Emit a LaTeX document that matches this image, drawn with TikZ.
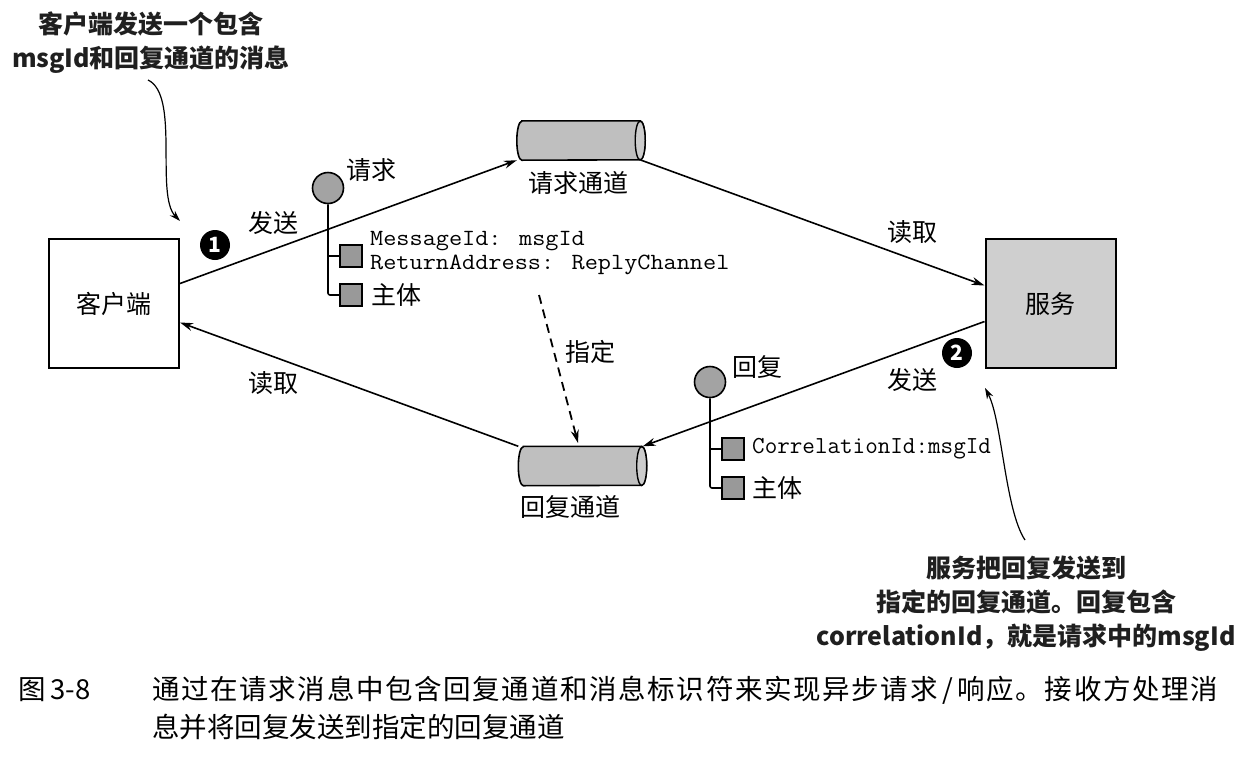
\documentclass[tikz,border=0pt]{standalone}
\usepackage{fontspec}
\usepackage{graphicx}
\setmainfont{Liberation Serif}
\newfontfamily\cjk{Noto Sans CJK SC}
\newfontfamily\capfont{Noto Sans CJK SC}[LetterSpace=6]
\usetikzlibrary{arrows.meta,calc}
\definecolor{boxgray}{gray}{0.81}
\definecolor{cylgray}{gray}{0.75}
\definecolor{endgray}{gray}{0.80}
\definecolor{circgray}{gray}{0.64}
\definecolor{sqgray}{gray}{0.60}
\definecolor{annotink}{gray}{0.12}
\newcommand\mycylinder[1]{%
  \filldraw[fill=cylgray, line width=1.6pt]
    ([xshift=5pt]#1.north west) -- ([xshift=-5pt]#1.north east)
    arc[x radius=5pt, y radius=19.5pt, start angle=90, end angle=-90]
    -- ([xshift=5pt]#1.south west)
    arc[x radius=5pt, y radius=19.5pt, start angle=270, end angle=90] -- cycle;
  \filldraw[fill=endgray, line width=1.4pt] ([xshift=-5pt]#1.east) ellipse[x radius=5pt, y radius=19.5pt];
}
\newcommand\widemono[1]{\scalebox{1.1}[1]{#1}}
\tikzset{
  boxnode/.style={draw, line width=2pt, minimum width=130pt, minimum height=129pt, inner sep=0pt, font=\cjk\fontsize{25}{30}\selectfont},
  lbl/.style={font=\cjk\fontsize{25}{30}\selectfont, inner sep=0pt},
  monotext/.style={font=\ttfamily\fontsize{23.2}{23}\selectfont, inner sep=0pt, anchor=west},
  conn/.style={line width=1.6pt, -{Stealth[length=13pt,width=8pt]}},
  dashconn/.style={line width=1.8pt, dash pattern=on 9pt off 6pt, -{Stealth[length=13pt,width=8pt]}},
  msgcirc/.style={circle, draw, line width=1.6pt, fill=circgray, minimum size=31pt, inner sep=0pt},
  sqnode/.style={draw, line width=1.6pt, fill=sqgray, minimum size=22pt, inner sep=0pt},
  treeline/.style={line width=1.6pt, rounded corners=2pt},
  marker/.style={circle, fill=black, minimum size=30pt, inner sep=0pt, text=white, font=\cjk\bfseries\fontsize{21}{21}\selectfont},
  annot/.style={font=\cjk\bfseries\fontsize{25}{34}\selectfont, text=annotink, align=center, inner sep=0pt},
  notearrow/.style={line width=1.2pt, -{Stealth[length=11pt,width=7pt]}},
  cyl/.style={minimum width=128pt, minimum height=39pt, inner sep=0pt},
  captext/.style={font=\cjk\fontsize{27.5}{30}\selectfont, inner sep=0pt, anchor=west}
}
\begin{document}
\begin{tikzpicture}[x=1pt,y=-1pt]
\useasboundingbox[fill=white] (0,0) rectangle (1240,761);

% annotation top
\node[annot] (annot1) at (151,43) {客户端发送一个包含\\msgId和回复通道的消息};
\coordinate (a1s) at (148,80);
\coordinate (a1e) at (180,221);
\draw[notearrow] (a1s) .. controls (180,95) and (155,195) .. (a1e);

% main boxes
\node[boxnode] (client) at (114,303.5) {客户端};
\node[boxnode, fill=boxgray] (service) at (1050.5,303.5) {服务};

% channels
\node[cyl] (reqch) at (581,140.5) {};
\mycylinder{reqch}
\node[lbl] (reqchl) at (578,183) {请求通道};
\node[cyl] (repch) at (582.5,466) {};
\mycylinder{repch}
\node[lbl] (repchl) at (570,507) {回复通道};

% connectors
\draw[conn] ([yshift=20pt]client.east) -- (reqch.south west);
\draw[conn] ([xshift=-4pt]reqch.south east) -- ([yshift=18pt]service.west);
\draw[conn] ([yshift=-18pt]service.west) -- ([xshift=-4pt]repch.north east);
\draw[conn] (repch.north west) -- ([yshift=-19pt]client.east);
\coordinate (dstart) at (539,295);
\coordinate (dend) at (578,443);
\draw[dashconn] (dstart) -- (dend);

% connector labels
\node[lbl] (l1) at (273,223) {发送};
\node[lbl] (l2) at (912,232) {读取};
\node[lbl] (l3) at (912,380) {发送};
\node[lbl] (l4) at (273,383) {读取};
\node[lbl] (l5) at (590,352) {指定};
\node[marker] (m1) at (215,245) {1};
\node[marker] (m2) at (957,353) {2};

% request message
\node[msgcirc] (rqc) at (328,188) {};
\node[lbl] (rql) at (371,170) {请求};
\node[sqnode] (rqs1) at (351,256) {};
\node[sqnode] (rqs2) at (351,295) {};
\draw[treeline] (rqc.south) |- (rqs2.west);
\draw[treeline] (rqs1.west -| rqc.south) -- (rqs1.west);
\node[monotext] (rqt1) at (370,241) {\widemono{MessageId: msgId}};
\node[monotext] (rqt2) at (370,264.5) {\widemono{ReturnAddress: ReplyChannel}};
\node[lbl, anchor=west] (rqt3) at (371,295) {主体};

% reply message
\node[msgcirc] (rpc) at (710,382) {};
\node[lbl] (rpl) at (757,367) {回复};
\node[sqnode] (rps1) at (733,449) {};
\node[sqnode] (rps2) at (733,488) {};
\draw[treeline] (rpc.south) |- (rps2.west);
\draw[treeline] (rps1.west -| rpc.south) -- (rps1.west);
\node[monotext, font=\ttfamily\fontsize{24.4}{25}\selectfont] (rpt1) at (752,449) {CorrelationId:msgId};
\node[lbl, anchor=west] (rpt2) at (752,488) {主体};

% annotation bottom
\node[annot] (annot2) at (1026,604) {服务把回复发送到\\指定的回复通道。回复包含\\correlationId，就是请求中的msgId};
\coordinate (a2s) at (1025,540);
\coordinate (a2e) at (985,388);
\draw[notearrow] (a2s) .. controls (1005,510) and (1002,420) .. (a2e);

% caption
\node[captext] (cap0) at (18,690) {图\,3-8};
\node[captext, font=\capfont\fontsize{27.5}{30}\selectfont] (cap1) at (152,690) {通过在请求消息中包含回复通道和消息标识符来实现异步请求\,/\,响应。接收方处理消};
\node[captext] (cap2) at (152,727) {息并将回复发送到指定的回复通道};
\end{tikzpicture}
\end{document}
